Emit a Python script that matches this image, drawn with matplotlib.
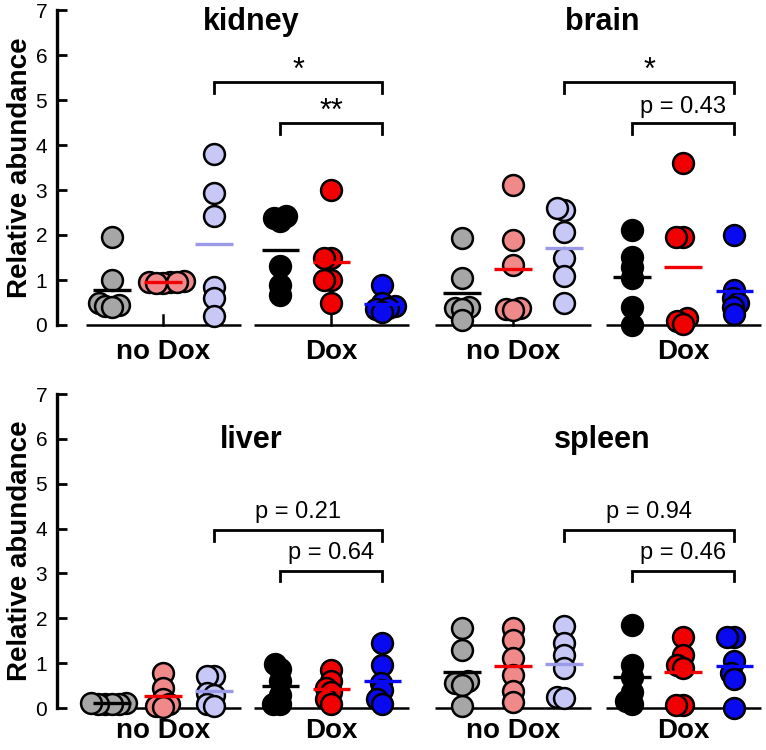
import numpy as np
import matplotlib
matplotlib.use("Agg")
import matplotlib.pyplot as plt

plt.rcParams['font.family'] = ['Liberation Sans', 'DejaVu Sans']

# ---------------- data ----------------
tissues_top = ["kidney", "brain"]
tissues_bottom = ["liver", "spleen"]
groups = ["no Dox", "Dox"]

kidney_nodox_ctrl = [1.95, 1.0, 0.5, 0.45, 0.42, 0.40]
kidney_nodox_mid = [0.95, 0.97, 0.93, 0.96, 0.94, 0.95]
kidney_nodox_high = [3.8, 2.93, 2.42, 0.85, 0.59, 0.19]
kidney_dox_ctrl = [2.42, 2.38, 2.32, 1.32, 0.89, 0.67]
kidney_dox_mid = [2.99, 1.48, 1.48, 1.0, 1.0, 0.5]
kidney_dox_high = [0.88, 0.5, 0.42, 0.38, 0.35, 0.30]

brain_nodox_ctrl = [1.93, 1.04, 0.40, 0.38, 0.35, 0.12]
brain_nodox_mid = [3.11, 1.9, 1.33, 0.38, 0.36, 0.34]
brain_nodox_high = [2.56, 2.6, 2.07, 1.48, 1.09, 0.48]
brain_dox_ctrl = [2.11, 1.52, 1.3, 1.04, 0.39, 0.0]
brain_dox_mid = [3.59, 1.95, 1.95, 0.15, 0.08, 0.02]
brain_dox_high = [2.0, 0.78, 0.6, 0.5, 0.4, 0.25]

liver_nodox_ctrl = [0.12, 0.10, 0.10, 0.08, 0.10, 0.12]
liver_nodox_mid = [0.78, 0.45, 0.2, 0.1, 0.05, 0.02]
liver_nodox_high = [0.72, 0.72, 0.33, 0.3, 0.1, 0.05]
liver_dox_ctrl = [0.98, 0.88, 0.6, 0.3, 0.1, 0.1]
liver_dox_mid = [0.85, 0.6, 0.45, 0.35, 0.2, 0.1]
liver_dox_high = [1.44, 0.96, 0.55, 0.4, 0.2, 0.1]

spleen_nodox_ctrl = [1.78, 1.3, 0.6, 0.55, 0.52, 0.04]
spleen_nodox_mid = [1.78, 1.52, 1.11, 0.74, 0.37, 0.13]
spleen_nodox_high = [1.83, 1.45, 1.19, 0.9, 0.25, 0.22]
spleen_dox_ctrl = [1.85, 0.96, 0.7, 0.35, 0.15, 0.1]
spleen_dox_mid = [1.59, 1.19, 0.96, 0.9, 0.07, 0.07]
spleen_dox_high = [1.59, 1.59, 1.04, 0.78, 0.64, 0.0]

# significance annotations: (upper label, lower label)
kidney_sig = ["*", "**"]
brain_sig = ["*", "p = 0.43"]
liver_sig = ["p = 0.21", "p = 0.64"]
spleen_sig = ["p = 0.94", "p = 0.46"]

yticks = [0, 1, 2, 3, 4, 5, 6, 7]
ylabel = "Relative abundance"

# ---------------- styles ----------------
fill_nodox = ["#a6a6a6", "#f08a8a", "#c8c8f6"]
fill_dox = ["#000000", "#f00000", "#0a0af0"]
mean_nodox = ["#000000", "#f00000", "#9a9ae8"]
mean_dox = ["#000000", "#f00000", "#0a0af0"]

W, H, DPI = 7.66, 7.5, 100
fig = plt.figure(figsize=(W, H), dpi=DPI)

PX_PER_UNIT_X = 51.0
group_centers = [0.0, 3.3, 6.86, 10.2]
xlim = (-2.08, 11.82)
MS = 15.0          # marker size (pt)


def swarm(vals, px_per_y, min_d=7.0):
    """simple beeswarm: returns x offsets in px"""
    placed = []
    offs = [0.0] * len(vals)
    order = sorted(range(len(vals)), key=lambda i: vals[i])
    for i in order:
        y = vals[i] * px_per_y
        cands = [0.0]
        for (px, py) in placed:
            dy = abs(py - y)
            if dy < min_d:
                dx = np.sqrt(min_d ** 2 - dy ** 2)
                cands += [px + dx + 1e-6, px - dx - 1e-6]
        cands.sort(key=lambda c: (abs(c), c))
        for c in cands:
            ok = all((c - px) ** 2 + (y - py) ** 2 >= min_d ** 2 - 1e-3 for (px, py) in placed)
            if ok:
                offs[i] = c
                placed.append((c, y))
                break
    return offs


def draw_row(ax, series_lists, titles, title_y, px_per_y, label_dy):
    ax.set_xlim(*xlim)
    ax.set_ylim(0, 7)
    for s in ["top", "right", "bottom"]:
        ax.spines[s].set_visible(False)
    ax.spines["left"].set_linewidth(2.4)
    ax.spines["left"].set_bounds(0, 7)
    ax.set_xticks([])
    ax.set_yticks(yticks)
    ax.tick_params(axis="y", direction="in", length=7.5, width=2, labelsize=15, pad=7)
    ax.set_ylabel(ylabel, fontsize=20, fontweight="bold", labelpad=2)
    ax.patch.set_alpha(0)

    for gi, gc in enumerate(group_centers):
        is_dox = gi % 2 == 1
        fills = fill_dox if is_dox else fill_nodox
        means = mean_dox if is_dox else mean_nodox
        # group baseline
        ax.plot([gc - 1.52, gc + 1.52], [0, 0], color="black", lw=1.8,
                solid_capstyle="butt", clip_on=False, zorder=2)
        ax.plot([gc, gc], [0, 0.22], color="black", lw=1.8, clip_on=False, zorder=2)
        for si in range(3):
            vals = series_lists[gi][si]
            xpos = gc + (si - 1)
            offs = swarm(vals, px_per_y)
            xs = [xpos + o / PX_PER_UNIT_X for o in offs]
            ax.plot(xs, vals, linestyle="none", marker="o", ms=MS,
                    mfc=fills[si], mec="black", mew=1.8, clip_on=False, zorder=3)
            m = np.mean(vals)
            ax.plot([xpos - 0.37, xpos + 0.37], [m, m], color=means[si], lw=2.4,
                    solid_capstyle="butt", zorder=4, clip_on=False)
        ax.text(gc, label_dy, groups[gi % 2], ha="center", va="center",
                fontsize=20, fontweight="bold", transform=ax.get_xaxis_transform(), clip_on=False)

    # titles
    for pi, t in enumerate(titles):
        cx = (group_centers[2 * pi] + group_centers[2 * pi + 1]) / 2 + 0.08
        ax.text(cx, title_y, t, ha="center", va="center", fontsize=22, fontweight="bold")

    return ax


def brackets(ax, pi, sig, y_hi, y_lo, drop, text_off, star):
    g0 = group_centers[2 * pi]
    g1 = group_centers[2 * pi + 1]
    x_left_hi = g0 + 1
    x_left_lo = g1 - 1
    x_right = g1 + 1
    for (xl, yb, lab) in [(x_left_hi, y_hi, sig[0]), (x_left_lo, y_lo, sig[1])]:
        ax.plot([xl, xl, x_right, x_right], [yb - drop, yb, yb, yb - drop],
                color="black", lw=2.0, solid_joinstyle="miter", zorder=2)
        is_star = lab.strip("*") == ""
        fs = 22 if is_star else 17
        off = star if is_star else text_off
        ax.text((xl + x_right) / 2, yb + off, lab, ha="center", va="center", fontsize=fs)


# top row
ax1 = fig.add_axes([57 / 766, 425 / 750, 709 / 766, 315 / 750])
top_series = [
    [kidney_nodox_ctrl, kidney_nodox_mid, kidney_nodox_high],
    [kidney_dox_ctrl, kidney_dox_mid, kidney_dox_high],
    [brain_nodox_ctrl, brain_nodox_mid, brain_nodox_high],
    [brain_dox_ctrl, brain_dox_mid, brain_dox_high],
]
draw_row(ax1, top_series, tissues_top, 6.73, 45.0, -0.087)
brackets(ax1, 0, kidney_sig, 5.4, 4.49, 0.24, 0.36, 0.25)
brackets(ax1, 1, brain_sig, 5.4, 4.49, 0.24, 0.36, 0.25)

# bottom row
ax2 = fig.add_axes([57 / 766, 42 / 750, 709 / 766, 314 / 750])
bottom_series = [
    [liver_nodox_ctrl, liver_nodox_mid, liver_nodox_high],
    [liver_dox_ctrl, liver_dox_mid, liver_dox_high],
    [spleen_nodox_ctrl, spleen_nodox_mid, spleen_nodox_high],
    [spleen_dox_ctrl, spleen_dox_mid, spleen_dox_high],
]
draw_row(ax2, bottom_series, tissues_bottom, 5.97, 44.9, -0.074)
brackets(ax2, 0, liver_sig, 3.96, 3.06, 0.23, 0.4, 0.3)
brackets(ax2, 1, spleen_sig, 3.96, 3.06, 0.23, 0.4, 0.3)

fig.savefig("out.png", dpi=DPI)
